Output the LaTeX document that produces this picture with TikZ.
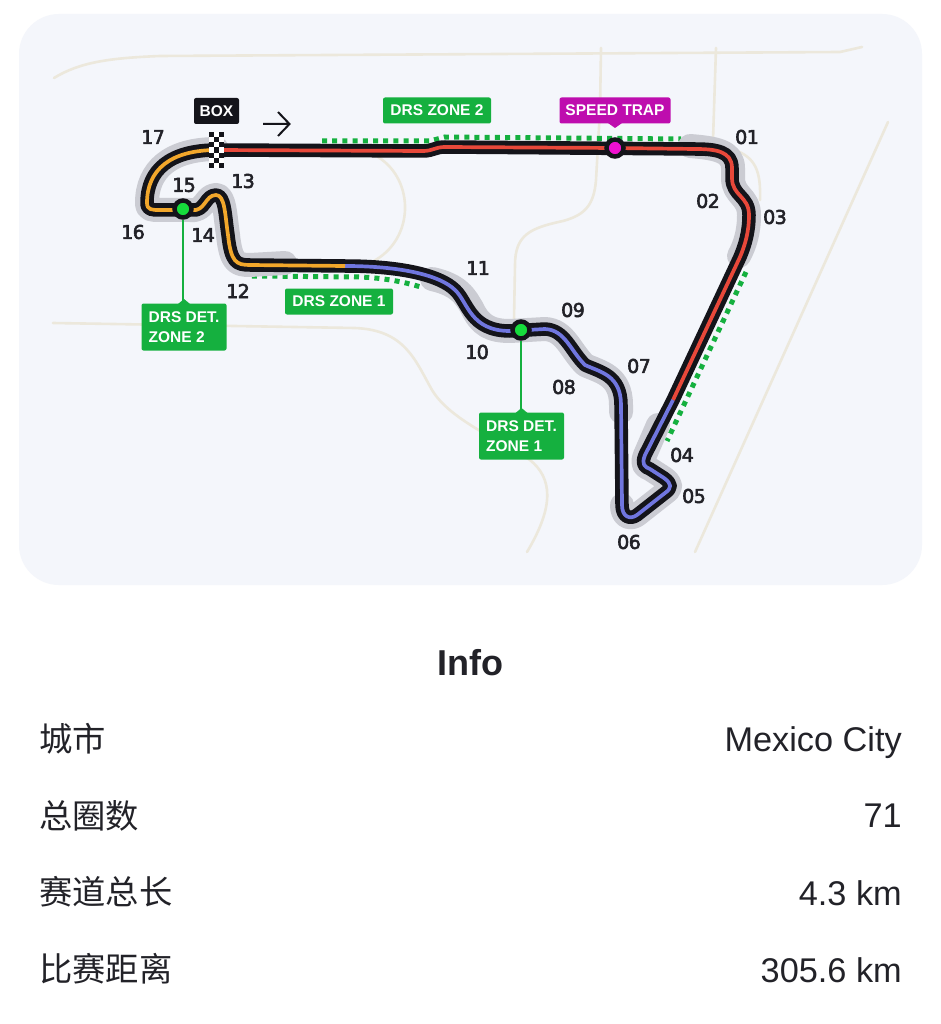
\documentclass[tikz,border=0pt]{standalone}
\usepackage{fontspec}
\setmainfont{Liberation Sans}
\newfontfamily\cjk{Noto Sans CJK SC}
\newfontfamily\lab{Liberation Sans Bold}
\newfontfamily\num[FakeBold=3,LetterSpace=-3]{DejaVu Sans}
\definecolor{cardbg}{HTML}{F4F6FB}
\definecolor{road}{HTML}{ECE8DC}
\definecolor{halo}{HTML}{CBCCD3}
\definecolor{trk}{HTML}{14141A}
\definecolor{orng}{HTML}{F2A72B}
\definecolor{redt}{HTML}{E8483A}
\definecolor{blut}{HTML}{7076DF}
\definecolor{grn}{HTML}{15B03F}
\definecolor{lime}{HTML}{16DC3C}
\definecolor{mag}{HTML}{BE0DAE}
\definecolor{pink}{HTML}{F010D0}
\definecolor{txt}{HTML}{222228}
\tikzset{
 roadline/.style={draw=road,line width=2.6pt,line cap=round,line join=round},
 halol/.style={draw=halo,line width=24pt,line cap=round,line join=round},
 blackl/.style={draw=trk,line width=13.5pt,line cap=round,line join=round},
 inner/.style={line width=3.7pt,line cap=butt,line join=round},
 drsd/.style={draw=grn,line width=5pt,dash pattern=on 5pt off 5.2pt},
 tn/.style={font=\num\fontsize{19}{19}\selectfont,text=txt,inner sep=0pt},
 tag/.style={fill=grn,rounded corners=2pt,text=white,font=\lab\fontsize{15.5}{20}\selectfont,inner sep=0pt,align=left},
 rowl/.style={font=\cjk\fontsize{33.3}{33}\selectfont,text=txt,anchor=west,inner sep=0pt},
 rowr/.style={font=\fontsize{34.3}{34}\selectfont,text=txt,anchor=east,inner sep=0pt},
 marker/.style={circle,draw=trk,line width=4.5pt,inner sep=0pt,minimum size=17pt},
}
\begin{document}
\begin{tikzpicture}[x=1pt,y=-1pt]
\useasboundingbox (0,0) rectangle (941,1024);
\fill[white] (0,0) rectangle (941,1024);
\fill[cardbg,rounded corners=40pt] (19,14) rectangle (922,585);
% roads
\draw[roadline] (54,78) .. controls (80,62) and (110,58) .. (160,56) -- (840,52) -- (862,47);
\draw[roadline] (601,48) -- (600,110) -- (596,180) .. controls (594,205) and (585,215) .. (563,221) .. controls (530,228) and (515,235) .. (515,265) -- (514,320);
\draw[roadline] (716,48) -- (713,140);
\draw[roadline] (735,150) .. controls (755,158) and (761,170) .. (760,200);
\draw[roadline] (888,122) -- (695,552);
\draw[roadline] (53,323) -- (355,328) .. controls (405,330) and (415,360) .. (432,390) .. controls (450,420) and (500,440) .. (530,460) .. controls (552,478) and (555,505) .. (527,552);
\draw[roadline] (378,157) .. controls (415,180) and (415,240) .. (372,262);
% DRS dots
\draw[drsd] (322,141) -- (430,141) -- (445,137) -- (681,139);
\draw[drsd] (252,276) -- (360,277) .. controls (385,278) and (405,282) .. (424,288);
\draw[drsd] (746,272) -- (667,441);
% halos
\draw[halol] (217,149) .. controls (170,149) and (147,170) .. (147,203) .. controls (147,210) and (152,210) .. (160,210) -- (190,210) .. controls (205,212) and (205,195) .. (216,195) .. controls (225,195) and (225,215) .. (228,235) .. controls (231,262) and (236,265) .. (250,265) -- (285,263);
\draw[halol] (432,279) .. controls (460,285) and (466,298) .. (472,308) .. controls (480,325) and (490,331) .. (510,331) -- (545,329) .. controls (565,330) and (570,350) .. (585,365) .. controls (600,372) and (621,375) .. (621,405) -- (621,412);
\draw[halol] (690,146) .. controls (715,148) and (733,151) .. (733,168) -- (733,178) .. controls (733,196) and (749,196) .. (749,215) .. controls (749,232) and (745,245) .. (739,256);
\draw[halol] (658,425) -- (645,455) .. controls (641,465) and (645,467) .. (650,469) -- (664,478) .. controls (672,484) and (672,488) .. (665,493) -- (637,515) .. controls (630,520) and (622,517) .. (622,505);
% track black
\draw[blackl] (217,150) .. controls (170,150) and (147,170) .. (147,203) .. controls (147,210) and (152,210) .. (160,210) -- (192,210) .. controls (205,212) and (205,195) .. (216,195) .. controls (225,195) and (225,215) .. (228,235) .. controls (231,262) and (236,265) .. (250,265) -- (345,266) .. controls (400,266) and (440,275) .. (455,290) .. controls (468,302) and (470,331) .. (510,331) -- (545,329) .. controls (565,330) and (570,350) .. (585,365) .. controls (600,372) and (621,375) .. (621,405) -- (622,505) .. controls (622,517) and (630,520) .. (637,515) -- (665,493) .. controls (672,488) and (672,484) .. (664,478) -- (650,469) .. controls (645,467) and (641,465) .. (645,455) -- (673,400) -- (740,257) .. controls (745,245) and (749,232) .. (749,215) .. controls (749,196) and (732,196) .. (732,178) -- (732,168) .. controls (732,151) and (715,149) .. (695,149) -- (445,147) .. controls (435,147) and (433,151) .. (423,151) -- cycle;
% inner colours
\draw[inner,draw=redt] (217,150) -- (423,151) .. controls (433,151) and (435,147) .. (445,147) -- (615,148) -- (695,149) .. controls (715,149) and (732,151) .. (732,168) -- (732,178) .. controls (732,196) and (749,196) .. (749,215) .. controls (749,232) and (745,245) .. (740,257) -- (673,400);
\draw[inner,draw=blut] (673,400) -- (645,455) .. controls (641,465) and (645,467) .. (650,469) -- (664,478) .. controls (672,484) and (672,488) .. (665,493) -- (637,515) .. controls (630,520) and (622,517) .. (622,505) -- (621,405) .. controls (621,375) and (600,372) .. (585,365) .. controls (570,350) and (565,330) .. (545,329) -- (510,331) .. controls (470,331) and (468,302) .. (455,290) .. controls (440,275) and (400,266) .. (345,266);
\draw[inner,draw=orng] (345,266) -- (250,265) .. controls (236,265) and (231,262) .. (228,235) .. controls (225,215) and (225,195) .. (216,195) .. controls (205,195) and (205,212) .. (192,210) -- (160,210) .. controls (152,210) and (147,210) .. (147,203) .. controls (147,170) and (170,150) .. (217,150);
% chequer
\foreach \c in {0,...,6}{
 \foreach \r in {0,1,2}{
  \pgfmathsetmacro{\xx}{209+\r*5}
  \pgfmathsetmacro{\yy}{132+\c*5.15}
  \pgfmathparse{int(mod(\c+\r,2))}
  \ifnum\pgfmathresult=0 \fill[trk] (\xx,\yy) rectangle ++(5,5.15); \else \fill[white] (\xx,\yy) rectangle ++(5,5.15); \fi
 }
}
% tags
\node[tag,minimum width=85pt,minimum height=47pt] (det2) at (184,327) {DRS DET.\\ZONE 2};
\node[tag,minimum width=85pt,minimum height=47pt] (det1) at (521.5,436) {DRS DET.\\ZONE 1};
\node[tag,minimum width=108pt,minimum height=26pt] (z1) at (339,301.5) {DRS ZONE 1};
\node[tag,minimum width=108pt,minimum height=26pt] (z2) at (437,110.5) {DRS ZONE 2};
\node[tag,fill=mag,minimum width=111pt,minimum height=26pt] (st) at (615,110.5) {SPEED TRAP};
\node[tag,fill=trk,minimum width=45pt,minimum height=26pt] (bx) at (216.5,111) {BOX};
\node[marker,fill=lime] (m2) at (183,209) {};
\node[marker,fill=lime] (m1) at (521,330) {};
\node[marker,fill=pink] (mt) at (615,148) {};
\draw[grn,line width=1.7pt] (m2) -- (m2 |- det2.north);
\draw[grn,line width=1.7pt] (m1) -- (m1 |- det1.north);
\fill[grn] (178,304) -- (184,299) -- (190,304) -- cycle;
\fill[grn] (515.5,413) -- (521.5,408) -- (527.5,413) -- cycle;
\fill[mag] (608,123) -- (615,128) -- (622,123) -- cycle;
% arrow
\coordinate (a0) at (263,124);
\coordinate (a1) at (289.5,124);
\draw[trk,line width=2pt,line join=miter] (a0) -- (a1) (278,112) -- (a1) -- (278,136);
% numbers
\node[tn] (n01) at (747,137) {01};
\node[tn] (n02) at (708,201) {02};
\node[tn] (n03) at (775,217) {03};
\node[tn] (n04) at (682,455) {04};
\node[tn] (n05) at (694,496) {05};
\node[tn] (n06) at (629,542) {06};
\node[tn] (n07) at (639,366) {07};
\node[tn] (n08) at (564,387) {08};
\node[tn] (n09) at (573,310) {09};
\node[tn] (n10) at (477,352) {10};
\node[tn] (n11) at (478,268) {11};
\node[tn] (n12) at (238,291) {12};
\node[tn] (n13) at (243,181) {13};
\node[tn] (n14) at (203,235) {14};
\node[tn] (n15) at (184,185) {15};
\node[tn] (n16) at (133,232) {16};
\node[tn] (n17) at (153,137) {17};
% info
\node[font=\fontsize{36}{36}\selectfont\bfseries,text=txt,inner sep=0pt] (info) at (470,663) {Info};
\node[rowl] (l1) at (39,739) {城市};
\node[rowl] (l2) at (39,816) {总圈数};
\node[rowl] (l3) at (39,892) {赛道总长};
\node[rowl] (l4) at (39,969) {比赛距离};
\node[rowr] (r1) at (902,743) {Mexico City};
\node[rowr] (r2) at (902,816) {71};
\node[rowr] (r3) at (902,893) {4.3 km};
\node[rowr] (r4) at (902,970) {305.6 km};
\end{tikzpicture}
\end{document}
